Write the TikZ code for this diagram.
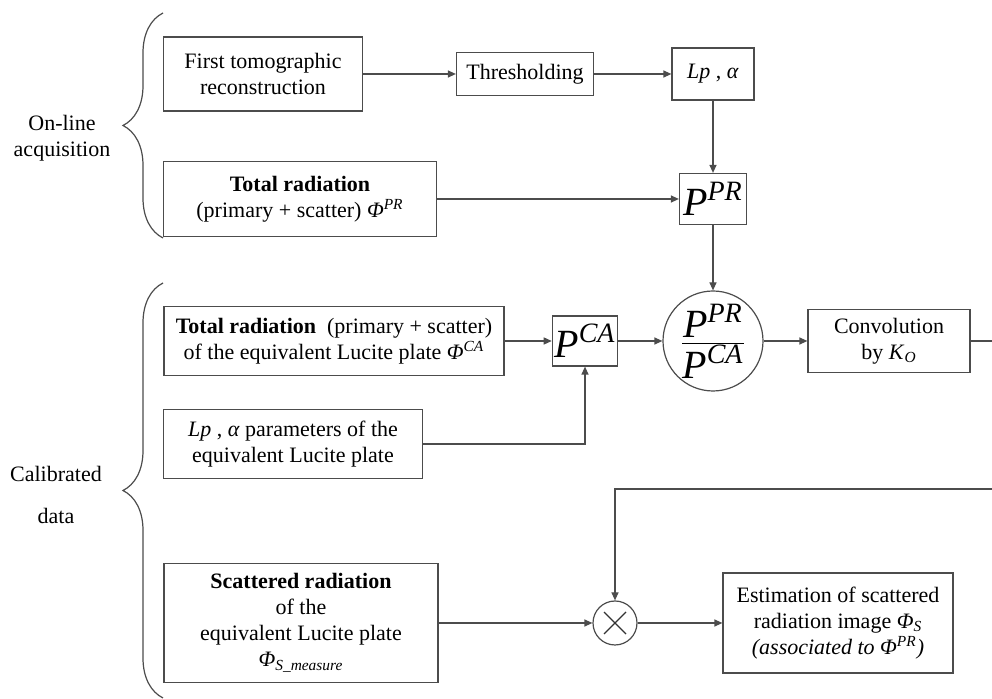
\documentclass[tikz,border=0pt]{standalone}
\usepackage{fontspec}
\setmainfont{Liberation Serif}
\usetikzlibrary{arrows.meta,decorations.pathreplacing,calc}

\begin{document}
\begin{tikzpicture}[x=0.5pt, y=-0.5pt,
    font=\fontsize{11}{13}\selectfont,
    box/.style={draw=black!70, line width=0.6pt, align=center, inner sep=1pt},
    pbox/.style={box, font=\fontsize{20}{22}\selectfont},
    ratio/.style={circle, draw=black!70, line width=0.6pt, minimum size=50pt, inner sep=0pt, font=\fontsize{20}{22}\selectfont},
    mult/.style={circle, draw=black!70, line width=0.6pt, minimum size=22pt, inner sep=0pt,
      path picture={\draw[black!80, line width=0.6pt]
        ($(path picture bounding box.center)+(-5.5pt,-5.5pt)$) -- ($(path picture bounding box.center)+(5.5pt,5.5pt)$)
        ($(path picture bounding box.center)+(-5.5pt,5.5pt)$) -- ($(path picture bounding box.center)+(5.5pt,-5.5pt)$);}},
    flow/.style={-{Triangle[length=4pt,width=3.5pt]}, draw=black!70, line width=0.6pt},
    bracket/.style={decorate, decoration={brace, amplitude=20pt}, draw=black!70, line width=0.6pt}
  ]
    \useasboundingbox (0,0) rectangle (992,699);

    % on-line acquisition
    \node[align=center] (online) at (62,138) {On-line\\acquisition};
    \draw[bracket] (163,238) -- (163,13);

    \node[box, minimum width=99.5pt, minimum height=37pt] (tomo) at (263,74) {First tomographic\\reconstruction};
    \node[box, minimum width=68.5pt, minimum height=21.5pt] (thr) at (525,74) {Thresholding};
    \node[box, minimum width=41pt, minimum height=26pt] (lpa) at (713,74) {\textit{Lp} , \textit{α}};
    \node[box, minimum width=136.5pt, minimum height=37.5pt] (totpr) at (300,199) {\textbf{Total radiation}\\(primary + scatter) \textit{Φ}\textsuperscript{\textit{PR}}};
    \node[pbox, minimum width=33.5pt, minimum height=25.5pt] (ppr) at (713,199) {\textit{P}\textsuperscript{\textit{PR}}};

    % calibrated data
    \node[align=center] (calib) at (56,495) {Calibrated\\[8pt]data};
    \draw[bracket] (163,698) -- (163,283);

    \node[box, minimum width=170pt, minimum height=34.5pt] (totca) at (334,341) {\textbf{Total radiation} \ (primary + scatter)\\of the equivalent Lucite plate \textit{Φ}\textsuperscript{\textit{CA}}};
    \node[pbox, minimum width=32pt, minimum height=25pt] (pca) at (585,341) {\textit{P}\textsuperscript{\textit{CA}}};
    \node[ratio] (ratio) at (713,341) {$\frac{\mbox{\textit{P}\textsuperscript{\textit{PR}}}}{\mbox{\textit{P}\textsuperscript{\textit{CA}}}}$};
    \node[box, minimum width=81pt, minimum height=31.5pt] (conv) at (889,341) {Convolution\\by \textit{K}\textsubscript{\textit{O}}};
    \node[box, minimum width=129.5pt, minimum height=34.5pt] (lpp) at (293,444) {\textit{Lp} , \textit{α} parameters of the\\equivalent Lucite plate};
    \node[box, minimum width=137pt, minimum height=59.5pt] (scat) at (301,623) {\textbf{Scattered radiation}\\of the\\equivalent Lucite plate\\\textit{Φ}\textsubscript{\textit{S\_measure}}};
    \node[mult] (mult) at (615,623) {};
    \node[box, minimum width=115pt, minimum height=50pt] (est) at (838,623) {Estimation of scattered\\radiation image \textit{Φ}\textsubscript{\textit{S}}\\\textit{(associated to Φ\textsuperscript{PR})}};
    \coordinate (loop) at (1000,489);

    \draw[flow] (tomo) -- (thr);
    \draw[flow] (thr) -- (lpa);
    \draw[flow] (lpa) -- (ppr);
    \draw[flow] (totpr) -- (ppr);
    \draw[flow] (ppr) -- (ratio);
    \draw[flow] (totca) -- (pca);
    \draw[flow] (pca) -- (ratio);
    \draw[flow] (ratio) -- (conv);
    \draw[flow] (lpp.east) -| (pca.south);
    \draw[flow] (scat) -- (mult);
    \draw[flow] (mult) -- (est);
    \draw[flow] (conv.east) -| (loop) -| (mult.north);
\end{tikzpicture}
\end{document}
